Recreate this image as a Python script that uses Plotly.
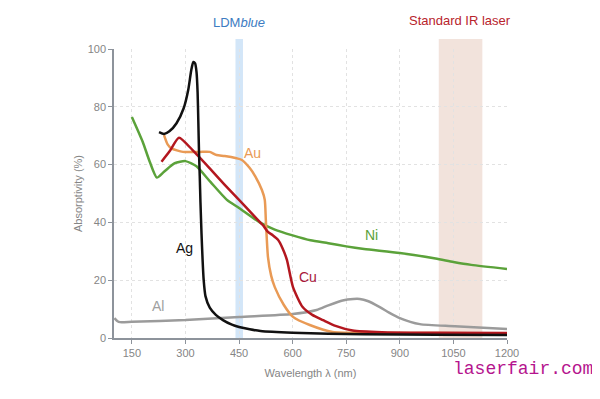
import plotly.graph_objects as go

# ---- data ----
ni_x = [150, 180, 200, 220, 240, 270, 300, 330, 370, 416, 450, 508, 550, 600, 650, 700, 750, 800, 900, 1000, 1050, 1100, 1200]
ni_y = [76.5, 68, 61, 55.5, 57.5, 60.5, 61.2, 59.5, 54, 47.8, 45, 40, 37.5, 35.5, 33.8, 32.8, 31.7, 30.8, 29.4, 27.5, 26.3, 25.3, 23.9]

ag_x = [226, 240, 255, 275, 295, 308, 316, 322, 327, 331, 334, 336, 338, 340, 342, 345, 348, 351, 356, 368, 385, 405, 430, 450, 480, 510, 600, 700, 800, 1000, 1200]
ag_y = [71.2, 70.6, 71.5, 74.3, 79.5, 86, 92.5, 95.5, 95, 92, 85, 75, 64, 56, 47, 36, 27, 20, 14.5, 10.5, 8, 6.2, 4.6, 3.8, 3, 2.4, 1.8, 1.5, 1.3, 1.1, 1.0]

cu_x = [233, 255, 282, 320, 368, 410, 450, 490, 517, 531, 545, 559, 572, 584, 601, 628, 655, 685, 720, 768, 850, 1000, 1200]
cu_y = [61, 64.5, 69.3, 65, 58.7, 53, 47.8, 42.5, 39, 36.7, 35.5, 34, 31, 27, 17.6, 10.7, 8, 6.2, 4.2, 2.6, 2, 1.8, 1.7]

au_x = [240, 250, 261, 293, 340, 368, 387, 410, 443, 458, 480, 495, 514, 522, 525, 531, 540, 550, 575, 601, 648, 712, 800, 1000, 1200]
au_y = [70.2, 67, 65.6, 64.4, 64.4, 64.4, 63.3, 63, 62.2, 61.6, 58.8, 56, 51.2, 47.8, 40.8, 28, 21.5, 17.6, 11.5, 7.3, 4.5, 2.1, 1.8, 1.7, 1.6]

al_x = [101, 110, 117, 150, 300, 450, 600, 667, 700, 740, 770, 788, 810, 844, 870, 900, 956, 1054, 1200]
al_y = [6.9, 5.8, 5.5, 5.6, 6.2, 7.3, 8.3, 9.7, 11.3, 13, 13.5, 13.5, 12.8, 10.7, 8.8, 6.9, 4.8, 4.1, 3.1]

series = [
    ("Ni", ni_x, ni_y, "#5ba23a"),
    ("Al", al_x, al_y, "#9b9b9b"),
    ("Au", au_x, au_y, "#e99a55"),
    ("Cu", cu_x, cu_y, "#b3171f"),
    ("Ag", ag_x, ag_y, "#111111"),
]

labels = [
    ("Ag", 296, 31, "#111111"),
    ("Au", 489, 64, "#e99a55"),
    ("Cu", 643, 21, "#a8163a"),
    ("Ni", 822, 35.6, "#5ba23a"),
    ("Al", 223, 11, "#a0a0a0"),
]

x_ticks = [150, 300, 450, 600, 750, 900, 1050, 1200]
y_ticks = [0, 20, 40, 60, 80, 100]
x_range = [100, 1200]
y_range = [0, 100]

blue_band = [440, 461]
ir_band = [1009, 1131]

fig = go.Figure()

def xpaper(v):
    return (v - x_range[0]) / (x_range[1] - x_range[0])

band_top = 1.035
fig.add_shape(type="rect", xref="paper", yref="paper",
              x0=xpaper(blue_band[0]), x1=xpaper(blue_band[1]), y0=0, y1=band_top,
              fillcolor="#d3e6f8", line_width=0, layer="below")
fig.add_shape(type="rect", xref="paper", yref="paper",
              x0=xpaper(ir_band[0]), x1=xpaper(ir_band[1]), y0=0, y1=band_top,
              fillcolor="#f2e3dc", line_width=0, layer="below")

for name, xs, ys, col in series:
    fig.add_trace(go.Scatter(x=xs, y=ys, mode="lines", name=name,
                             line=dict(color=col, width=2.5, shape="spline", smoothing=0.6),
                             showlegend=False, hoverinfo="skip"))

for txt, lx, ly, col in labels:
    fig.add_annotation(x=lx, y=ly, text=txt, showarrow=False,
                       font=dict(family="Liberation Sans, Arial", size=14, color=col))

fig.add_annotation(x=xpaper(450), y=1.093, xref="paper", yref="paper",
                   text="LDM<i>blue</i>", showarrow=False, xanchor="center", yanchor="middle",
                   font=dict(family="Liberation Sans, Arial", size=13, color="#3d7cc2"))
fig.add_annotation(x=xpaper(1068), y=1.1, xref="paper", yref="paper",
                   text="Standard IR laser", showarrow=False, xanchor="center", yanchor="middle",
                   font=dict(family="Liberation Sans, Arial", size=13, color="#b8242c"))
fig.add_annotation(x=1.041, y=-0.107, xref="paper", yref="paper",
                   text="laserfair.com", showarrow=False, xanchor="center", yanchor="middle",
                   font=dict(family="Liberation Mono, DejaVu Sans Mono", size=18, color="#b5148e"))

axis_col = "#8d939b"
fig.update_layout(
    width=592, height=391,
    margin=dict(l=106, r=93, t=41, b=61),
    plot_bgcolor="white", paper_bgcolor="white",
    font=dict(family="Liberation Sans, Arial", size=11, color="#858585"),
    xaxis=dict(range=x_range, tickvals=x_ticks, showgrid=True, gridcolor="#e2e2e2",
               griddash="dot", gridwidth=1, zeroline=False, showline=True,
               linecolor=axis_col, linewidth=1.5, ticks="outside", ticklen=4,
               tickcolor=axis_col, tickfont=dict(size=11, color="#858585"),
               title=dict(text="Wavelength λ (nm)", font=dict(size=11, color="#858585"), standoff=11)),
    yaxis=dict(range=y_range, tickvals=y_ticks, showgrid=True, gridcolor="#e2e2e2",
               griddash="dot", gridwidth=1, zeroline=False, showline=True,
               linecolor=axis_col, linewidth=1.5, ticks="outside", ticklen=4,
               tickcolor=axis_col, tickfont=dict(size=11, color="#858585"),
               title=dict(text="Absorptivity (%)", font=dict(size=11, color="#858585"), standoff=3)),
)

fig.write_html("out.html")
